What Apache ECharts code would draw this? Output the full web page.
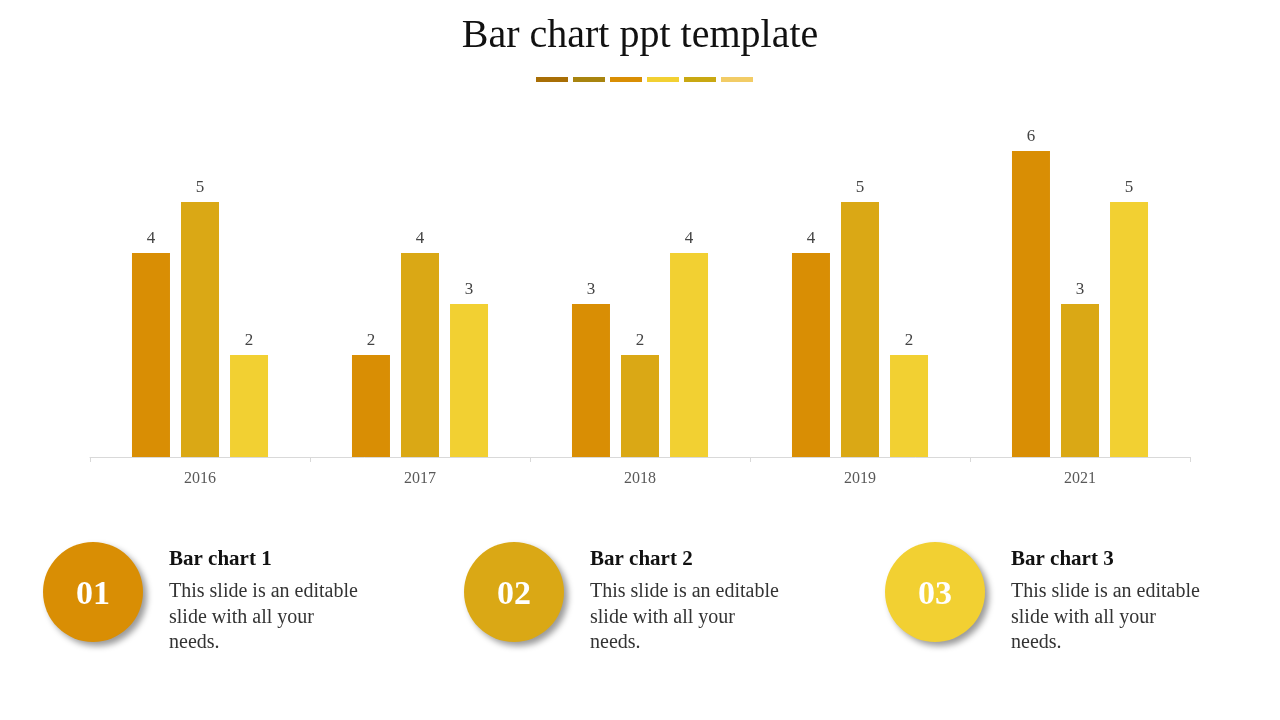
<!DOCTYPE html>
<html>
<head>
<meta charset="utf-8">
<script src="https://cdn.jsdelivr.net/npm/echarts@6/dist/echarts.min.js"></script>
<style>
  html, body { margin: 0; padding: 0; background: #fff; }
  #chart { width: 1280px; height: 720px; }
</style>
</head>
<body>
<div id="chart"></div>
<script>
const years = ['2016', '2017', '2018', '2019', '2021'];
const series1 = [4, 2, 3, 4, 6];
const series2 = [5, 4, 2, 5, 3];
const series3 = [2, 3, 4, 2, 5];
const barColors = ['#D98E04', '#DAA815', '#F2D032'];
const dashColors = ['#A86E05', '#A8840F', '#D98E04', '#F2D032', '#C9A812', '#F2CC66'];
const cards = [
  { num: '01', title: 'Bar chart 1', color: '#D98E04' },
  { num: '02', title: 'Bar chart 2', color: '#DAA815' },
  { num: '03', title: 'Bar chart 3', color: '#F2D032' },
];
const SERIF = '"Liberation Serif", "DejaVu Serif", serif';

const chart = echarts.init(document.getElementById('chart'));

const graphic = [];
// title
graphic.push({
  type: 'text', left: 'center', top: 16,
  style: {
    text: 'Bar chart ppt template', font: '40px ' + SERIF, fill: '#111',
    shadowColor: 'rgba(0,0,0,0.35)', shadowBlur: 4, shadowOffsetX: 2, shadowOffsetY: 2,
  },
});
// dashes under title
dashColors.forEach((c, i) => {
  graphic.push({ type: 'rect', shape: { x: 536 + i * 37, y: 77, width: 32, height: 5 }, style: { fill: c } });
});
// bottom cards
cards.forEach((card, i) => {
  const cx = 93 + i * 421;
  graphic.push({
    type: 'circle', shape: { cx: cx, cy: 592, r: 50 },
    style: { fill: card.color, shadowColor: 'rgba(0,0,0,0.4)', shadowBlur: 6, shadowOffsetX: 4, shadowOffsetY: 4 },
  });
  graphic.push({
    type: 'text', x: cx, y: 595,
    style: { text: card.num, font: 'bold 34px ' + SERIF, fill: '#fff', align: 'center', verticalAlign: 'middle' },
  });
  graphic.push({
    type: 'text', x: cx + 76, y: 549,
    style: { text: card.title, font: 'bold 21px ' + SERIF, fill: '#111' },
  });
  graphic.push({
    type: 'text', x: cx + 76, y: 579,
    style: { text: 'This slide is an editable\nslide with all your\nneeds.', font: '20px ' + SERIF, fill: '#333', lineHeight: 25.5 },
  });
});

const mk = (name, data, color) => ({
  name, type: 'bar', data, barWidth: 38, barGap: '29%',
  itemStyle: { color },
  label: { show: true, position: 'top', distance: 6, color: '#444', fontFamily: SERIF, fontSize: 17 },
});

chart.setOption({
  animation: false,
  textStyle: { fontFamily: SERIF },
  grid: { left: 90, right: 90, top: 151, bottom: 263 },
  xAxis: {
    type: 'category', data: years,
    axisLine: { lineStyle: { color: '#d9d9d9' } },
    axisTick: { show: true, length: 5, lineStyle: { color: '#d9d9d9' } },
    axisLabel: { color: '#595959', fontSize: 16, fontFamily: SERIF, margin: 14 },
  },
  yAxis: { type: 'value', min: 0, max: 6, show: false, splitLine: { show: false } },
  series: [mk('A', series1, barColors[0]), mk('B', series2, barColors[1]), mk('C', series3, barColors[2])],
  graphic,
});
</script>
</body>
</html>
